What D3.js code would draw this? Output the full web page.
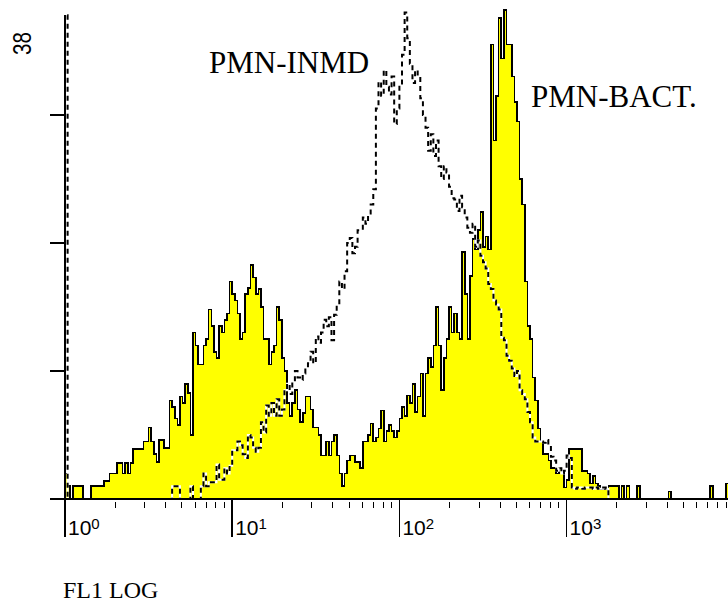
<!DOCTYPE html>
<html>
<head>
<meta charset="utf-8">
<script src="https://cdn.jsdelivr.net/npm/d3@7"></script>
<style>
  html, body { margin: 0; padding: 0; background: #fff; }
  svg { display: block; }
</style>
</head>
<body>
<script>
// FL1 log histogram overlay: 256 channels across 4 decades.
const channelCount = 256;
const decades = 4;

// PMN-BACT. (filled yellow) counts per channel
const bactCounts = [
  2, 1, 0, 1, 1, 1, 1, 0, 0, 0,
  1, 1, 1, 1, 1, 1.4, 1.4, 2, 2, 2,
  2.8, 2.8, 2, 2.8, 2, 2.8, 3.9, 3.9, 3.9, 3.9,
  4.5, 4.5, 5.6, 4.5, 3.5, 2.9, 4.6, 4.6, 4, 4,
  7.7, 7.2, 6.3, 5.8, 8, 7.5, 9, 8.3, 5, 13,
  12, 10.5, 10.5, 12, 12.5, 14.8, 13.5, 11.5, 11, 13.5,
  13, 14, 14.5, 17, 16, 15.5, 14.5, 12.5, 13, 16,
  16.5, 18.3, 17.3, 16, 16.4, 15, 12.5, 12.5, 10.5, 11.5,
  12, 15, 14, 11, 10, 7.5, 6.5, 7.5, 8.5, 7,
  6, 6.7, 8, 8, 7, 5.6, 5.6, 5, 3.4, 3.4,
  4.5, 3.4, 4.5, 5, 3.4, 2, 1, 2, 3, 3.4,
  3.4, 2.9, 2.9, 2.4, 4.5, 4.5, 5, 5.9, 4.5, 4.8,
  5.5, 6.9, 4.5, 5.3, 5.8, 5.3, 4.8, 5.3, 6.3, 7.2,
  6.5, 8.1, 7.5, 9, 6.8, 8, 9.8, 6.5, 9.8, 11,
  10.3, 12, 15, 12, 8.5, 11, 12.5, 15, 13, 14.5,
  13, 12.5, 19.3, 16, 12.5, 17.4, 20.3, 19.5, 21, 22.4,
  19.7, 20.5, 19.5, 35.5, 28, 31.5, 37.6, 34.4, 38.2, 35.5,
  35.5, 33, 31, 29.5, 25, 23, 17, 13.5, 12.5, 9.5,
  7.7, 5.5, 4.5, 3.5, 3.5, 3, 2.4, 2.4, 2, 2.4,
  2, 0.9, 1.5, 3.9, 3.9, 3.9, 3.9, 3.9, 2.2, 2.2,
  2, 1.2, 1.8, 1.2, 1, 0.8, 0.8, 0.8, 1, 1,
  1, 1, 0, 1, 0, 1, 0, 0, 0, 1,
  0, 0, 0, 0, 0, 0, 0, 0, 0, 0,
  0, 0.6, 0, 0, 0, 0, 0, 0, 0, 0,
  0, 0, 0, 0, 0, 0, 0, 1, 0, 0,
  0, 0, 0, 1.2, 0, 0
];

// PMN-INMD (dashed) counts per channel; channel 0 is off scale
const inmdCounts = [
  37.8, 0, 0, 0, 0, 0, 0, 0, 0, 0,
  0, 0, 0, 0, 0, 0, 0, 0, 0, 0,
  0, 0, 0, 0, 0, 0, 0, 0, 0, 0,
  0, 0, 0, 0, 0, 0, 0, 0, 0, 0,
  0, 1, 1, 1, 0, 0, 0, 0, 1, 0,
  0, 0, 1, 2, 1, 1.3, 1.3, 1.3, 2.7, 1.5,
  1.5, 2.4, 2, 2.6, 3.8, 3.8, 4.5, 4.2, 3.5, 3.2,
  5, 4.8, 4, 3.7, 4, 6, 5.2, 7.3, 6.5, 7.5,
  6.5, 7.8, 6.5, 7, 8.5, 9, 8.2, 9.2, 10, 9.5,
  9.3, 9.8, 10.2, 10.6, 11.5, 10.6, 12.7, 12.2, 13, 14,
  13.5, 14.2, 12.4, 14.4, 15.2, 17, 16.4, 17.8, 20, 20.4,
  19.2, 19.7, 21, 21, 22, 21.5, 22.3, 23, 24.2, 30.5,
  32.6, 31.5, 33.5, 32.2, 31.6, 33, 29.3, 30.5, 32.3, 34.7,
  38, 36, 34, 32.5, 33.5, 33, 31.3, 30, 29, 27.2,
  28.5, 26.8, 28, 26, 25, 26, 25.5, 24.4, 23.5, 23.4,
  22.5, 23.7, 22.8, 22, 21.2, 20.8, 21.5, 19.7, 20.2, 19,
  18.5, 18, 16.8, 16.4, 15.5, 15.2, 14.8, 12.6, 12.4, 11.2,
  10.8, 10.2, 9.6, 10, 8.5, 8.2, 7.8, 6.8, 6, 4.8,
  4.5, 4.5, 4.5, 4.4, 4.6, 4.2, 3.3, 3, 2.2, 2.4,
  2, 2.2, 3.4, 3.2, 0.9, 0.8, 0.9, 0.9, 0.8, 0.9,
  0.9, 0.9, 0.8, 0.9, 0.8, 0.8, 0.9, 0.8, 0, 0,
  0, 0, 0, 0, 0, 0, 0, 0, 0, 0,
  0, 0, 0, 0, 0, 0, 0, 0, 0, 0,
  0, 0, 0, 0, 0, 0, 0, 0, 0, 0,
  0, 0, 0, 0, 0, 0, 0, 0, 0, 0,
  0, 0, 0, 0, 0, 0
];

const xDecadeExponents = [0, 1, 2, 3];
const minorMultipliers = [2, 3, 4, 5, 6, 7, 8, 9];
const yTickValues = [10, 20, 30];
const yAxisTop = 37.8;
const yMaxLabel = "38";
const seriesLabels = ["PMN-INMD", "PMN-BACT."];
const xAxisTitle = "FL1 LOG";

const W = 728, H = 602;
const svg = d3.select("body").append("svg").attr("width", W).attr("height", H);

const x = d3.scaleLog().domain([1, Math.pow(10, decades)]).range([65, 733.8]);
const y = d3.scaleLinear().domain([0, 38]).range([499, 12.6]);

const edge = i => Math.pow(10, i * decades / channelCount);

function stepPoints(counts) {
  const pts = [{ e: edge(0), v: 0 }];
  counts.forEach((v, i) => pts.push({ e: edge(i), v }));
  pts.push({ e: edge(channelCount), v: counts[counts.length - 1] });
  pts.push({ e: edge(channelCount), v: 0 });
  return pts;
}

svg.append("clipPath").attr("id", "plot")
  .append("rect").attr("x", 0).attr("y", 0).attr("width", W).attr("height", 499);

const plot = svg.append("g").attr("clip-path", "url(#plot)");

// filled histogram
const area = d3.area()
  .x(d => x(d.e)).y0(y(0)).y1(d => y(d.v))
  .curve(d3.curveStepAfter);
const line = d3.line()
  .x(d => x(d.e)).y(d => y(d.v))
  .curve(d3.curveStepAfter);

const bactPts = stepPoints(bactCounts);
plot.append("path").attr("d", area(bactPts))
  .attr("fill", "#ffff00").attr("stroke", "none");
plot.append("path").attr("d", line(bactPts))
  .attr("fill", "none").attr("stroke", "#000").attr("stroke-width", 1.6)
  .attr("shape-rendering", "crispEdges");

// dashed overlay histogram (white under black dashes)
const inmdPts = stepPoints(inmdCounts);
plot.append("path").attr("d", line(inmdPts))
  .attr("fill", "none").attr("stroke", "#fff").attr("stroke-width", 2);
plot.append("path").attr("d", line(inmdPts))
  .attr("fill", "none").attr("stroke", "#000").attr("stroke-width", 2)
  .attr("stroke-dasharray", "5,4");

// axes
const axes = svg.append("g").attr("stroke", "#000").attr("shape-rendering", "crispEdges");
axes.append("line").attr("x1", 50).attr("x2", W).attr("y1", y(0)).attr("y2", y(0)).attr("stroke-width", 1.5);
axes.append("line").attr("x1", x(1)).attr("x2", x(1)).attr("y1", y(yAxisTop)).attr("y2", y(0)).attr("stroke-width", 1.5);

yTickValues.forEach(v => {
  axes.append("line").attr("x1", 50).attr("x2", x(1)).attr("y1", y(v)).attr("y2", y(v)).attr("stroke-width", 1.5);
});

xDecadeExponents.forEach(p => {
  const base = Math.pow(10, p);
  axes.append("line").attr("x1", x(base)).attr("x2", x(base))
    .attr("y1", y(0)).attr("y2", 537).attr("stroke-width", 1.5);
  minorMultipliers.forEach(m => {
    const xv = x(m * base);
    if (xv <= W) {
      axes.append("line").attr("x1", xv).attr("x2", xv)
        .attr("y1", 502).attr("y2", 508).attr("stroke-width", 1);
    }
  });
});

// decade labels 10^n
xDecadeExponents.forEach(p => {
  const t = svg.append("text")
    .attr("x", x(Math.pow(10, p)) + 3).attr("y", 535)
    .attr("font-family", "Liberation Sans, Arial, sans-serif")
    .attr("font-size", 21).attr("fill", "#000");
  t.append("tspan").text("10");
  t.append("tspan").attr("font-size", 15).attr("dy", -6).text(p);
});

// max count label
svg.append("text")
  .attr("transform", "translate(31,55) rotate(-90)")
  .attr("font-family", "Liberation Sans, Arial, sans-serif")
  .attr("font-size", 25).attr("textLength", 23).attr("lengthAdjust", "spacingAndGlyphs")
  .attr("fill", "#000").text(yMaxLabel);

// series labels and axis title
const serif = "Liberation Serif, Times New Roman, serif";
svg.append("text").attr("x", 209).attr("y", 73)
  .attr("font-family", serif).attr("font-size", 31).attr("fill", "#000")
  .text(seriesLabels[0]);
svg.append("text").attr("x", 531).attr("y", 107)
  .attr("font-family", serif).attr("font-size", 31).attr("fill", "#000")
  .text(seriesLabels[1]);
svg.append("text").attr("x", 63).attr("y", 598)
  .attr("font-family", serif).attr("font-size", 24).attr("fill", "#000")
  .text(xAxisTitle);
</script>
</body>
</html>
